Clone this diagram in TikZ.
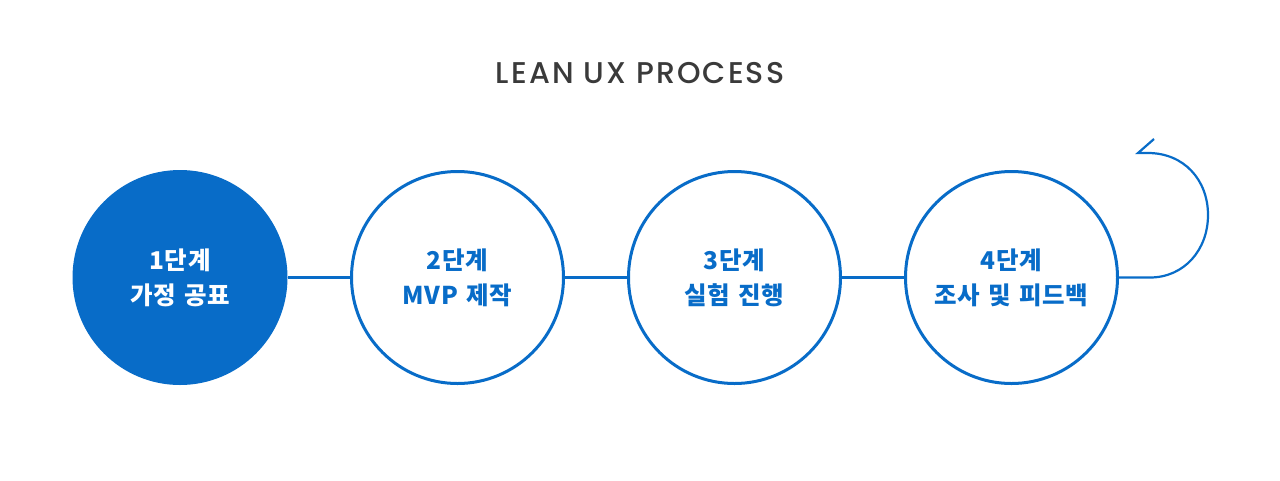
\documentclass[tikz,border=0pt]{standalone}
\usepackage{fontspec}
\newfontfamily\kr{Noto Sans CJK KR}[LetterSpace=3,WordSpace=1.3]
\newfontfamily\titlefont{Poppins Medium}[LetterSpace=7]
\definecolor{mainblue}{RGB}{8,108,200}
\definecolor{titlegray}{RGB}{58,58,58}
\tikzset{
  stage/.style={circle, draw=mainblue, line width=3pt, minimum size=212pt, inner sep=0pt, align=center,
    font=\kr\bfseries\fontsize{24.5pt}{35pt}\selectfont, text=mainblue},
  stagefilled/.style={stage, fill=mainblue, text=white},
  link/.style={draw=mainblue, line width=2.5pt},
}
\begin{document}
\begin{tikzpicture}[x=1pt,y=-1pt]
\useasboundingbox (0,0) rectangle (1280,480);
\node[font=\titlefont\fontsize{30pt}{34pt}\selectfont, text=titlegray] (title) at (640,73) {LEAN UX PROCESS};
\node[stagefilled] (s1) at (180,277.5) {1단계\\가정 공표};
\node[stage] (s2) at (457.5,277.5) {2단계\\MVP 제작};
\node[stage] (s3) at (734.5,277.5) {3단계\\실험 진행};
\node[stage] (s4) at (1011.5,277.5) {4단계\\조사 및 피드백};
\draw[link] (s1) -- (s2);
\draw[link] (s2) -- (s3);
\draw[link] (s3) -- (s4);
\coordinate (c1) at (1150,277.5);
\coordinate (c2) at (1208,215);
\coordinate (c3) at (1148,153);
\coordinate (tip) at (1138,153);
\coordinate (barb) at (1154,139);
\draw[link, line width=2.2pt] (s4.east) -- (c1) .. controls (1184,277.5) and (1208,250) .. (c2)
  .. controls (1208,180) and (1184,153) .. (c3) -- (tip) -- (barb);
\end{tikzpicture}
\end{document}
